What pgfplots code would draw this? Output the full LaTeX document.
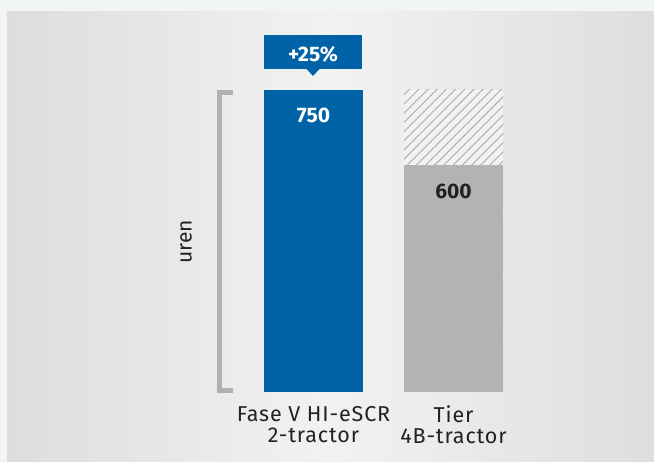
\documentclass[border=0pt]{standalone}
\usepackage{pgfplots}
\pgfplotsset{compat=1.18}
\usepackage{fontspec}
\setmainfont{Fira Sans}
\usetikzlibrary{patterns.meta}

\definecolor{pagebg}{HTML}{F2F5F6}
\definecolor{panelL}{HTML}{DEDCDE}
\definecolor{panelM}{HTML}{F3F2F2}
\definecolor{panelR}{HTML}{DFDDE0}
\definecolor{barblue}{HTML}{0063A8}
\definecolor{bargray}{HTML}{B3B3B3}
\definecolor{hatch}{HTML}{ABABAB}
\definecolor{hatchbg}{HTML}{F3F2F3}
\definecolor{bracket}{HTML}{B0B0B0}
\definecolor{txt}{HTML}{222222}

\newcommand\labfont{\fontsize{21.5bp}{21bp}\selectfont\addfontfeatures{LetterSpace=4}}

\begin{document}
\begin{tikzpicture}[x=1bp,y=1bp]
% achtergrond
\fill[pagebg] (0,0) rectangle (654,462);
\shade[left color=panelL, right color=panelR, middle color=panelM] (7,0) rectangle (654,450);

\begin{axis}[
    at={(173.5bp,70bp)}, anchor=south west,
    scale only axis, width=420bp, height=302bp,
    xmin=-1, xmax=2,
    ymin=150, ymax=750,
    ybar,
    axis line style={draw=none},
    major tick length=0pt,
    ytick=\empty,
    xtick={0,1},
    xticklabels={{Fase V HI-eSCR\\2-tractor},{Tier\\4B-tractor}},
    xticklabel style={align=center, text=txt,
        font=\labfont, anchor=north, yshift=-10.5bp},
    /pgf/number format/assume math mode=true,
    clip mode=individual,
]
% gearceerd deel tot 750 achter de grijze balk
\addplot[bar shift=0pt, bar width=99bp, draw=none, fill=hatchbg,
    postaction={pattern={Lines[angle=45,distance=6.5bp,line width=0.9bp]}, pattern color=hatch}]
    coordinates {(1,750)};
\addplot[bar shift=0pt, bar width=99bp, draw=none, fill=barblue,
    nodes near coords,
    nodes near coords style={anchor=center, yshift=-25bp, text=white,
        font=\fontsize{21bp}{21bp}\selectfont\bfseries}]
    coordinates {(0,750)};
\addplot[bar shift=0pt, bar width=99bp, draw=none, fill=bargray,
    nodes near coords,
    nodes near coords style={anchor=center, yshift=-26bp, text=txt,
        font=\fontsize{21bp}{21bp}\selectfont\bfseries}]
    coordinates {(1,600)};
\end{axis}

% accolade links
\draw[bracket, line width=5bp] (233,369.5) -- (219.5,369.5) -- (219.5,71.5) -- (233,71.5);
\node[rotate=90, text=txt, font=\fontsize{21bp}{21bp}\selectfont] at (186,220) {uren};

% +25% label
\fill[barblue] (264,393) rectangle (362,427);
\fill[barblue] (306,393.5) -- (320,393.5) -- (313,386) -- cycle;
\node[text=white, font=\fontsize{21bp}{21bp}\selectfont\bfseries] at (313,408) {+25\%};
\end{tikzpicture}
\end{document}
